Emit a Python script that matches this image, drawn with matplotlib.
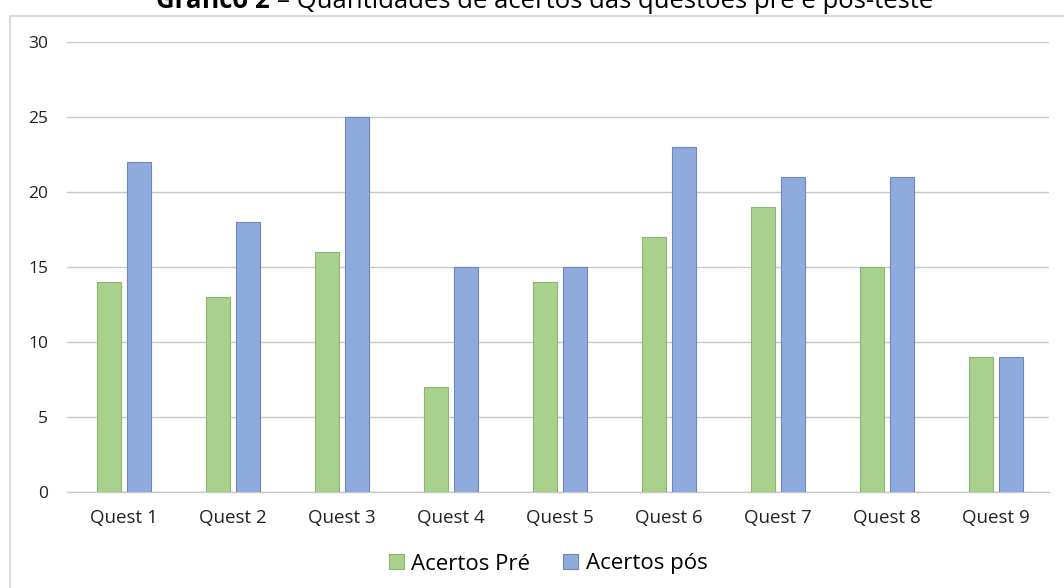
import numpy as np
import matplotlib
matplotlib.use("Agg")
import matplotlib.pyplot as plt
from matplotlib.patches import Rectangle

# dados do gráfico
questoes = ["Quest 1", "Quest 2", "Quest 3", "Quest 4", "Quest 5",
            "Quest 6", "Quest 7", "Quest 8", "Quest 9"]
acertos_pre = [14, 13, 16, 7, 14, 17, 19, 15, 9]
acertos_pos = [22, 18, 25, 15, 15, 23, 21, 21, 9]

plt.rcParams['font.family'] = ['Open Sans', 'DejaVu Sans']

fig = plt.figure(figsize=(10.64, 5.88), dpi=100)
fig.patch.set_facecolor('white')

# moldura externa do gráfico (cortada na direita e embaixo)
fig.patches.append(Rectangle((10/1064, -0.05), 1.1, 0.05 + (1 - 16/588),
                             transform=fig.transFigure, fill=False,
                             edgecolor='#d4d4d4', linewidth=1.2))

ax = fig.add_axes([67/1064, 1 - 492/588, (1049 - 67)/1064, 450/588])

x = np.arange(len(questoes))
w = 0.22
ax.bar(x - 0.138, acertos_pre, w, color='#A9D18E', edgecolor='#8DB56F',
       linewidth=0.8, label='Acertos Pré', zorder=3)
ax.bar(x + 0.138, acertos_pos, w, color='#8FAADC', edgecolor='#6B86C2',
       linewidth=0.8, label='Acertos pós', zorder=3)

ax.set_xlim(-0.52, 8.49)
ax.set_ylim(0, 30)
ax.set_yticks(range(0, 31, 5))
ax.set_xticks(x)
ax.set_xticklabels(questoes, fontsize=13.5, color='#222222')
ax.tick_params(axis='y', labelsize=12.5, colors='#222222', length=0, pad=13.5)
ax.tick_params(axis='x', length=0, pad=12)
ax.grid(axis='y', color='#c8c8c8', linewidth=1, zorder=0)
for s in ['top', 'right', 'left']:
    ax.spines[s].set_visible(False)
ax.spines['bottom'].set_color('#c8c8c8')
ax.spines['bottom'].set_linewidth(1)

fig.legend(loc='center', bbox_to_anchor=(548/1064, 1 - 564/588), ncol=2,
           frameon=False, fontsize=16, handlelength=0.68, handleheight=0.68,
           handletextpad=0.32, columnspacing=1.5)

# título cortado no topo da imagem, como na referência
fig.text(270/1064, 1 - 8/588, "Gráfico 2", fontsize=18.5, fontweight='bold',
         ha='right', va='baseline')
fig.text(277/1064, 1 - 8/588, "– Quantidades de acertos das questões pré e pós-teste",
         fontsize=18.5, ha='left', va='baseline')

fig.savefig("out.png", dpi=100)
